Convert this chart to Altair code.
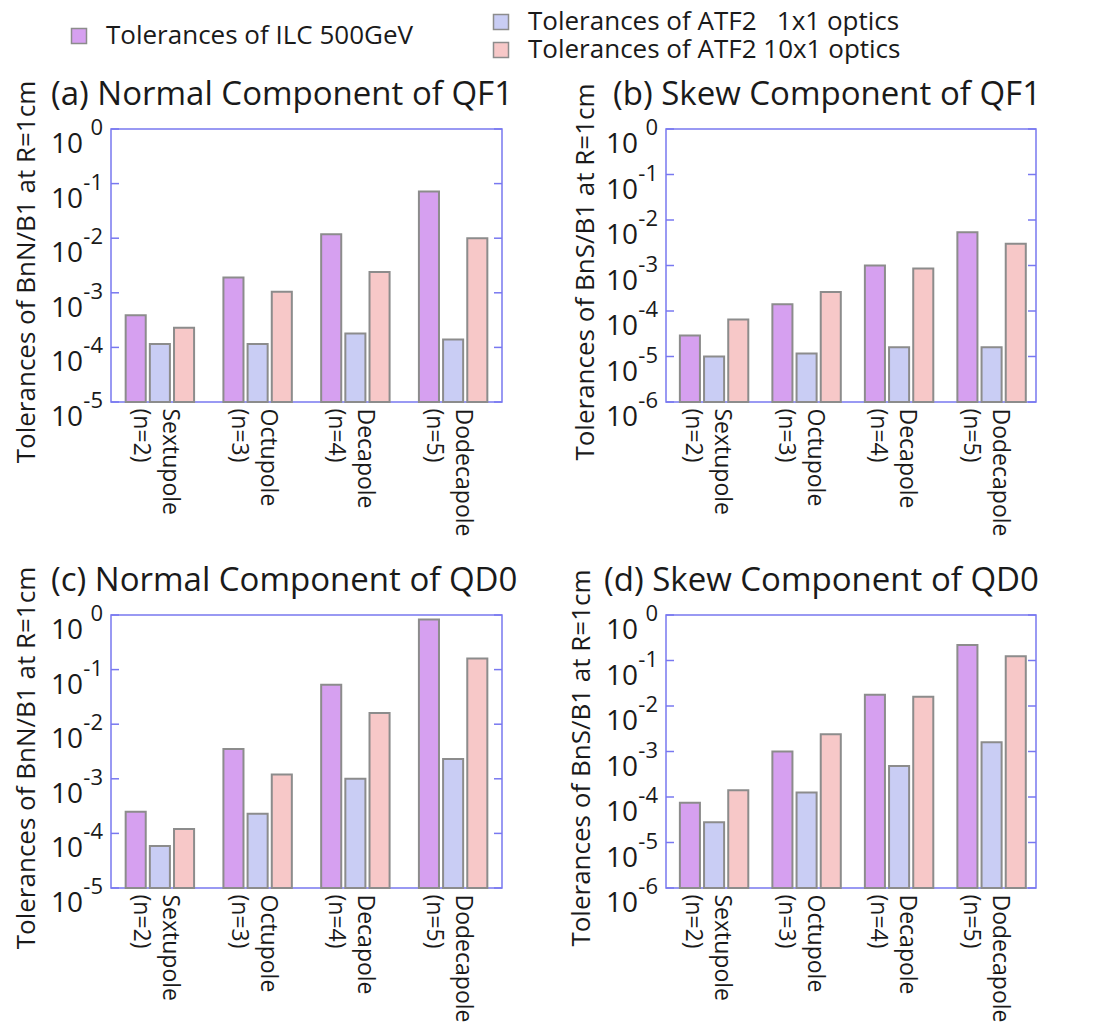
import json
import altair as alt
import pandas as pd

# ---------------- data ----------------
categories = ["Sextupole", "Octupole", "Decapole", "Dodecapole"]
orders = ["(n=2)", "(n=3)", "(n=4)", "(n=5)"]
series = [
    "Tolerances of ILC 500GeV",
    "Tolerances of ATF2\u00a0\u00a0\u00a01x1 optics",
    "Tolerances of ATF2 10x1 optics",
]

# (a) Normal component of QF1
a_ilc = [3.9e-4, 1.9e-3, 1.18e-2, 7.2e-2]
a_1x1 = [1.15e-4, 1.15e-4, 1.8e-4, 1.4e-4]
a_10x1 = [2.3e-4, 1.05e-3, 2.4e-3, 1.0e-2]
# (b) Skew component of QF1
b_ilc = [2.9e-5, 1.4e-4, 1.0e-3, 5.4e-3]
b_1x1 = [1.0e-5, 1.17e-5, 1.6e-5, 1.6e-5]
b_10x1 = [6.5e-5, 2.6e-4, 8.6e-4, 3.0e-3]
# (c) Normal component of QD0
c_ilc = [2.5e-4, 3.5e-3, 5.3e-2, 0.83]
c_1x1 = [5.9e-5, 2.3e-4, 1.0e-3, 2.3e-3]
c_10x1 = [1.2e-4, 1.2e-3, 1.6e-2, 0.16]
# (d) Skew component of QD0
d_ilc = [7.5e-5, 1.0e-3, 1.77e-2, 0.22]
d_1x1 = [2.8e-5, 1.25e-4, 4.8e-4, 1.6e-3]
d_10x1 = [1.4e-4, 2.4e-3, 1.6e-2, 0.124]

tick_exponents = [0, -1, -2, -3, -4, -5, -6]

# ---------------- style ----------------
FONT = "Open Sans"
TEXT = "#1a1a1a"
FRAME = "#7878f0"
OUTLINE = "#8c8c8c"
fills = ["#d6a0f0", "#c9cdf4", "#f7c8c8"]

LW, RW, H = 391, 370, 273


def panel(values, ymin_exp, title, ytitle, width, tpad, dx):
    labels = [c + "\n" + o for c, o in zip(categories, orders)]
    rows = []
    for s, vals in zip(series, values):
        for lab, v in zip(labels, vals):
            rows.append({"cat": lab, "series": s, "value": v})
    df = pd.DataFrame(rows)
    exps = [e for e in tick_exponents if e >= ymin_exp]
    tdf = pd.DataFrame({"v": [10.0 ** e for e in exps], "e": [str(e) for e in exps]})
    ymin = 10.0 ** ymin_exp

    def ysc():
        return alt.Scale(type="log", domain=[ymin, 1], nice=False)

    def yax():
        return alt.Axis(
            title=ytitle,
            labels=False,
            ticks=False,
            domain=False,
            grid=False,
            titlePadding=tpad,
            titleFont=FONT,
            titleFontSize=26,
            titleFontWeight="normal",
            titleColor=TEXT,
            titleY=H / 2 + 6,
        )

    bars = alt.Chart(df).mark_bar(stroke=OUTLINE, strokeWidth=2).encode(
        x=alt.X(
            "cat:N",
            sort=labels,
            scale=alt.Scale(paddingInner=0.3, paddingOuter=0.15),
            axis=alt.Axis(
                title=None,
                labelAngle=90,
                labelExpr="split(datum.label, '\\n')",
                ticks=False,
                domain=False,
                labelFont=FONT,
                labelFontSize=23,
                labelColor=TEXT,
                labelPadding=6,
                labelLineHeight=29,
                labelOffset=10,
            ),
        ),
        xOffset=alt.XOffset("series:N", sort=series, scale=alt.Scale(paddingInner=0.17)),
        y=alt.Y("value:Q", scale=ysc(), axis=yax()),
        y2=alt.datum(ymin),
        fill=alt.Fill("series:N", scale=alt.Scale(domain=series, range=fills), legend=None),
    )
    base = alt.Chart(tdf)
    lticks = base.mark_rule(color=FRAME, strokeWidth=1.5).encode(
        x=alt.value(0), x2=alt.value(8), y=alt.Y("v:Q", scale=ysc(), axis=yax())
    )
    rticks = base.mark_rule(color=FRAME, strokeWidth=1.5).encode(
        x=alt.value(width - 8), x2=alt.value(width), y=alt.Y("v:Q", scale=ysc(), axis=yax())
    )
    tens = base.mark_text(
        align="right", baseline="middle", font=FONT, fontSize=28, color=TEXT, dy=16
    ).encode(x=alt.value(-28), y=alt.Y("v:Q", scale=ysc(), axis=yax()), text=alt.value("10"))
    sup = base.mark_text(
        align="right", baseline="middle", font=FONT, fontSize=22, color=TEXT, dy=-1
    ).encode(x=alt.value(-8), y=alt.Y("v:Q", scale=ysc(), axis=yax()), text="e:N")
    head = alt.Chart(pd.DataFrame({"t": [title]})).mark_text(
        align="left", baseline="alphabetic", font=FONT, fontSize=33, color=TEXT
    ).encode(x=alt.value(dx), y=alt.value(-24), text="t:N")
    return alt.layer(bars, lticks, rticks, tens, sup, head).properties(width=width, height=H)


pa = panel([a_ilc, a_1x1, a_10x1], -5, "(a) Normal Component of QF1",
           "Tolerances of BnN/B1 at R=1cm", LW, 72, -60)
pb = panel([b_ilc, b_1x1, b_10x1], -6, "(b) Skew Component of QF1",
           "Tolerances of BnS/B1 at R=1cm", RW, 68, -53)
pc = panel([c_ilc, c_1x1, c_10x1], -5, "(c) Normal Component of QD0",
           "Tolerances of BnN/B1 at R=1cm", LW, 72, -60)
pd_ = panel([d_ilc, d_1x1, d_10x1], -6, "(d) Skew Component of QD0",
            "Tolerances of BnS/B1 at R=1cm", RW, 72, -62)

# ---------------- legend ----------------
leg_df = pd.DataFrame({"series": series})
idx = f"indexof({json.dumps(series)}, datum.series)"
leg_base = alt.Chart(leg_df).transform_calculate(i=idx).transform_calculate(
    lx="datum.i == 0 ? -32 : 390",
    ly="datum.i == 0 ? 24 : (datum.i == 1 ? 10 : 38)",
)
leg_sym = leg_base.mark_square(size=225, stroke=OUTLINE, strokeWidth=1.5, opacity=1).encode(
    x=alt.X("lx:Q", scale=None, axis=None),
    y=alt.Y("ly:Q", scale=None, axis=None),
    fill=alt.Fill("series:N", scale=alt.Scale(domain=series, range=fills), legend=None),
)
leg_txt = leg_base.mark_text(
    align="left", baseline="middle", dx=27, font=FONT, fontSize=26, color=TEXT
).encode(
    x=alt.X("lx:Q", scale=None, axis=None),
    y=alt.Y("ly:Q", scale=None, axis=None),
    text="series:N",
)
legend = alt.layer(leg_sym, leg_txt).properties(
    width=800, height=45, view=alt.ViewBackground(stroke="transparent")
)

row1 = alt.hconcat(pa, pb, spacing=164, bounds="flush").resolve_scale(y="independent", x="independent")
row2 = alt.hconcat(pc, pd_, spacing=164, bounds="flush").resolve_scale(y="independent", x="independent")
rows = alt.vconcat(row1, row2, spacing=486, bounds="flush")

chart = (
    alt.vconcat(legend, rows, spacing=72, bounds="flush")
    .properties(padding={"left": 4, "top": 0, "right": 0, "bottom": 0})
    .configure_view(stroke=FRAME, strokeWidth=1.5)
)

chart.save("out.html", embed_options={"renderer": "svg", "actions": False})
